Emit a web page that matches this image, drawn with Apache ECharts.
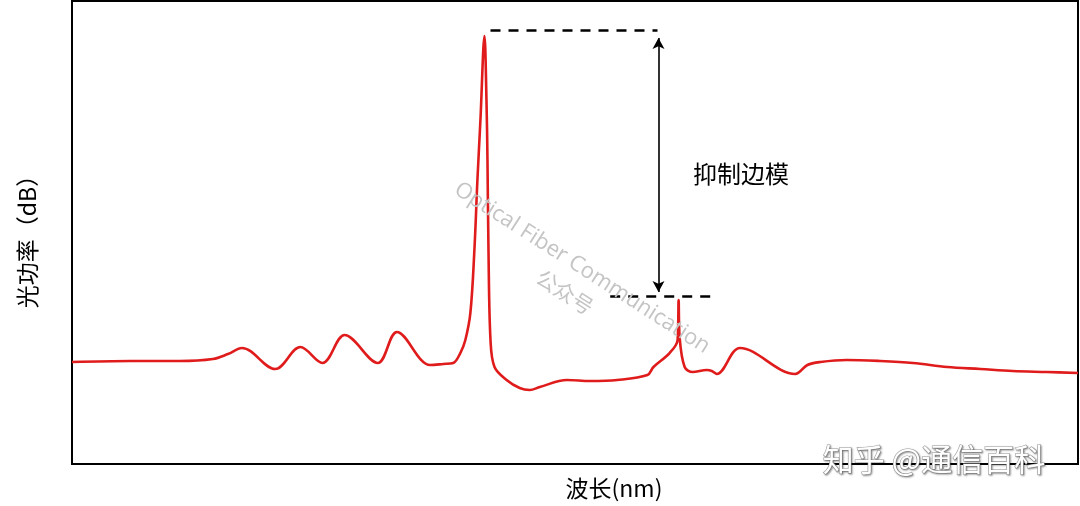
<!DOCTYPE html>
<html>
<head>
<meta charset="utf-8">
<script src="https://cdn.jsdelivr.net/npm/echarts@6/dist/echarts.min.js"></script>
<style>
html,body{margin:0;padding:0;background:#fff;}
#chart{width:1080px;height:506px;}
</style>
</head>
<body>
<div id="chart"></div>
<script>
// Wavelength (nm) and optical power (dB)
const wavelength = [1545.00,1545.58,1546.07,1546.40,1546.55,1546.69,1547.02,1547.27,1547.49,1547.71,1548.04,1548.23,1548.56,1548.69,1548.79,1548.86,1548.91,1548.96,1549.00,1549.03,1549.06,1549.10,1549.12,1549.13,1549.14,1549.16,1549.20,1549.32,1549.45,1549.55,1549.65,1549.92,1550.15,1550.42,1550.72,1550.78,1550.94,1551.02,1551.03,1551.04,1551.09,1551.17,1551.31,1551.36,1551.41,1551.64,1552.19,1552.31,1552.44,1552.70,1553.03,1553.36,1553.70,1554.03,1554.35,1554.69,1555.00];
const power = [-46.78,-46.65,-46.65,-46.39,-45.75,-44.97,-47.69,-44.84,-46.91,-43.28,-46.91,-42.89,-47.17,-47.04,-46.91,-45.62,-43.93,-40.43,-32.27,-23.20,-15.42,-4.54,-12.83,-20.60,-32.27,-43.93,-47.43,-49.11,-50.15,-50.41,-50.02,-49.11,-49.24,-49.11,-48.47,-47.43,-45.62,-43.93,-38.75,-43.54,-47.43,-48.08,-47.82,-47.95,-48.34,-44.97,-48.34,-47.17,-46.78,-46.52,-46.65,-46.91,-47.43,-47.69,-47.95,-48.08,-48.21];
// Annotation levels (dB) and wavelengths (nm)
const mainLevel = -3.85, sideLevel = -38.32;
const mainDashX = [1549.16, 1550.82];
const sideDashX = [1550.35, 1551.42];
const arrowX = 1550.83, arrowEnds = [-4.79, -37.71];
const axisRangeX = [1545, 1555], axisRangeY = [-60, 0];
const annotationText = '抑制边模';
const xName = '波长(nm)', yName = '光功率（dB）';

const data = wavelength.map((w, i) => [w, power[i]]);
const chart = echarts.init(document.getElementById('chart'));
const dashStyle = {color:'#000', width:2.5, type:[10,8]};
chart.setOption({
  animation:false,
  grid:{left:72, top:1, right:2, bottom:42, show:true, borderColor:'#000', borderWidth:2, backgroundColor:'transparent'},
  xAxis:{type:'value', min:axisRangeX[0], max:axisRangeX[1], axisLine:{show:false}, axisTick:{show:false}, axisLabel:{show:false}, splitLine:{show:false}},
  yAxis:{type:'value', min:axisRangeY[0], max:axisRangeY[1], axisLine:{show:false}, axisTick:{show:false}, axisLabel:{show:false}, splitLine:{show:false}},
  series:[{
    type:'line', data:data, showSymbol:false, smooth:0.35,
    lineStyle:{color:'#e01b1b', width:2.6}, z:3,
    markLine:{
      silent:true, animation:false, symbol:'none', label:{show:false},
      data:[
        [{coord:[mainDashX[0], mainLevel], lineStyle:dashStyle}, {coord:[mainDashX[1], mainLevel]}],
        [{coord:[sideDashX[0], sideLevel], lineStyle:dashStyle}, {coord:[sideDashX[1], sideLevel]}],
        [{coord:[arrowX, arrowEnds[0]], symbol:'arrow', symbolSize:[9,11], lineStyle:{color:'#000', width:1.6, type:'solid'}},
         {coord:[arrowX, arrowEnds[1]], symbol:'arrow', symbolSize:[9,11]}]
      ]
    }
  }],
  graphic:[
    {type:'text', left:693, top:162, style:{text:annotationText, font:'24px "Noto Sans CJK SC"', fill:'#000'}},
    {type:'text', x:614, y:488, style:{text:xName, font:'23px "Noto Sans CJK SC"', fill:'#000', align:'center', verticalAlign:'middle'}},
    {type:'text', x:27, y:236, rotation:Math.PI/2, style:{text:yName, font:'23px "Noto Sans CJK SC"', fill:'#000', align:'center', verticalAlign:'middle'}},
    {type:'text', x:582, y:268, rotation:-0.57, z:10, style:{text:'Optical Fiber Communication', font:'22px "Open Sans"', fill:'#c4c4c4', align:'center', verticalAlign:'middle'}},
    {type:'text', x:565, y:292, rotation:-0.57, z:10, style:{text:'公众号', font:'21px "Noto Sans CJK SC"', fill:'#c4c4c4', align:'center', verticalAlign:'middle'}},
    {type:'text', x:934, y:459, z:20, style:{text:'知乎 @通信百科', font:'31px "Noto Sans CJK SC"', fill:'#ffffff', stroke:'#9a9a9a', lineWidth:1.2, align:'center', verticalAlign:'middle', textShadowColor:'rgba(0,0,0,0.35)', textShadowBlur:2, textShadowOffsetX:1, textShadowOffsetY:1}}
  ]
});
</script>
</body>
</html>
